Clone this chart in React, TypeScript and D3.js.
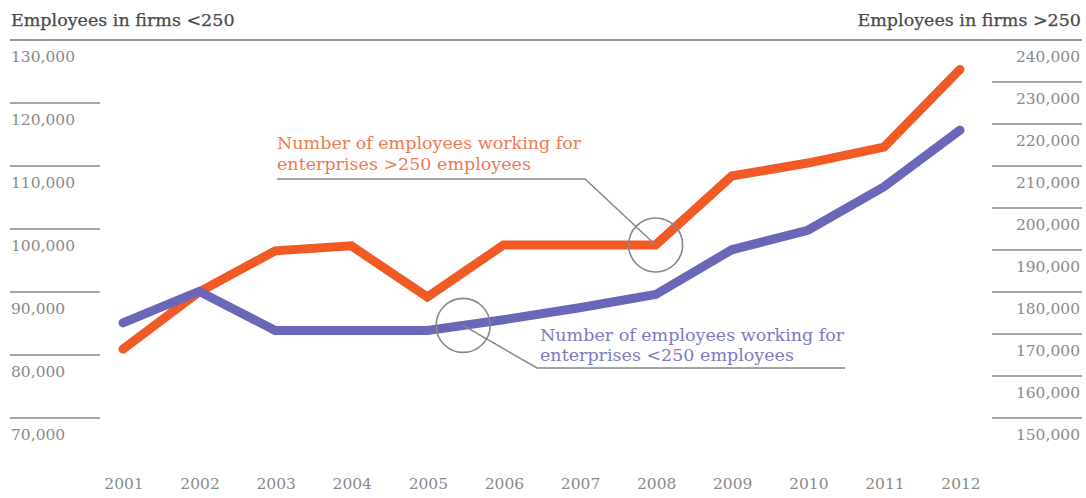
import React from "react";
import * as d3 from "d3";

const years = ["2001","2002","2003","2004","2005","2006","2007","2008","2009","2010","2011","2012"];
// Employees in firms >250 (right axis)
const largeFirms = [166400, 180000, 189800, 191000, 178800, 191200, 191200, 191200, 207600, 210700, 214500, 233000];
// Employees in firms <250 (left axis)
const smallFirms = [85100, 90100, 83900, 83900, 83900, 85600, 87500, 89600, 96700, 99800, 106700, 115700];
const leftTicks = [70000, 80000, 90000, 100000, 110000, 120000, 130000];
const rightTicks = [150000, 160000, 170000, 180000, 190000, 200000, 210000, 220000, 230000, 240000];

const leftTitle = "Employees in firms <250";
const rightTitle = "Employees in firms >250";
const largeLabel = ["Number of employees working for", "enterprises >250 employees"];
const smallLabel = ["Number of employees working for", "enterprises <250 employees"];

const W = 1086, H = 498;
const ORANGE = "#F15A24";
const BLUE = "#6B67B8";
const FONT = "'DejaVu Serif', serif";

export default function App() {
  const x = d3.scalePoint<string>().domain(years).range([123, 960]);
  const yL = d3.scaleLinear().domain([70000, 130000]).range([418, 40]);
  const yR = d3.scaleLinear().domain([150000, 240000]).range([418, 40]);
  const fmt = d3.format(",");

  const lineL = d3.line<number>().x((_, i) => x(years[i])!).y((d) => yL(d));
  const lineR = d3.line<number>().x((_, i) => x(years[i])!).y((d) => yR(d));

  // annotation anchors
  const oCx = x("2008")!, oCy = yR(largeFirms[7]);
  const bx0 = x("2005")!, bx1 = x("2006")!;
  const bCx = bx0 + (bx1 - bx0) * 0.47;
  const bCy = yL(smallFirms[4]) + (yL(smallFirms[5]) - yL(smallFirms[4])) * 0.47;

  return (
    <svg width={W} height={H} style={{ position: "absolute", left: 0, top: 0, background: "#fff" }}>
      {/* header rule */}
      <line x1={10} x2={1082} y1={40} y2={40} stroke="#777" strokeWidth={1.3} />
      <text x={11} y={20} fontFamily={FONT} fontSize={17.5} fill="#4a4a4a" stroke="#4a4a4a" strokeWidth={0.25} dominantBaseline="central">{leftTitle}</text>
      <text x={1081} y={20} fontFamily={FONT} fontSize={17.5} fill="#4a4a4a" stroke="#4a4a4a" strokeWidth={0.25} textAnchor="end" dominantBaseline="central">{rightTitle}</text>

      {/* left axis */}
      {leftTicks.map((t) => (
        <g key={"l" + t}>
          {t !== 130000 && <line x1={10} x2={100} y1={yL(t)} y2={yL(t)} stroke="#888" strokeWidth={1.3} />}
          <text x={11} y={yL(t) + 17} fontFamily={FONT} fontSize={15.5} fill="#8a8a8a" dominantBaseline="central">{fmt(t)}</text>
        </g>
      ))}

      {/* right axis */}
      {rightTicks.map((t) => (
        <g key={"r" + t}>
          {t !== 240000 && <line x1={992} x2={1082} y1={yR(t)} y2={yR(t)} stroke="#888" strokeWidth={1.3} />}
          <text x={1080} y={yR(t) + 17} fontFamily={FONT} fontSize={15.5} fill="#8a8a8a" textAnchor="end" dominantBaseline="central">{fmt(t)}</text>
        </g>
      ))}

      {/* x axis labels */}
      {years.map((yr) => (
        <text key={yr} x={x(yr)! + 1} y={484} fontFamily={FONT} fontSize={15.5} fill="#8a8a8a" textAnchor="middle" dominantBaseline="central">{yr}</text>
      ))}

      {/* lines */}
      <path d={lineR(largeFirms)!} fill="none" stroke={ORANGE} strokeWidth={9} strokeLinecap="round" strokeLinejoin="miter" />
      <path d={lineL(smallFirms)!} fill="none" stroke={BLUE} strokeWidth={9} strokeLinecap="round" strokeLinejoin="miter" />

      {/* orange annotation */}
      <text x={277} y={143} fontFamily={FONT} fontSize={17.5} fill="#EF7A50" dominantBaseline="central">{largeLabel[0]}</text>
      <text x={277} y={164} fontFamily={FONT} fontSize={17.5} fill="#EF7A50" dominantBaseline="central">{largeLabel[1]}</text>
      <polyline points={`277,179 585,179 ${oCx},${oCy}`} fill="none" stroke="#888" strokeWidth={1.5} />
      <circle cx={oCx} cy={oCy} r={27} fill="none" stroke="#888" strokeWidth={1.6} />

      {/* blue annotation */}
      <text x={540} y={335} fontFamily={FONT} fontSize={17.5} fill="#7D7ABF" dominantBaseline="central">{smallLabel[0]}</text>
      <text x={540} y={355} fontFamily={FONT} fontSize={17.5} fill="#7D7ABF" dominantBaseline="central">{smallLabel[1]}</text>
      <polyline points={`${bCx},${bCy} 537,368 845,368`} fill="none" stroke="#888" strokeWidth={1.5} />
      <circle cx={bCx} cy={bCy} r={27} fill="none" stroke="#888" strokeWidth={1.6} />
    </svg>
  );
}
